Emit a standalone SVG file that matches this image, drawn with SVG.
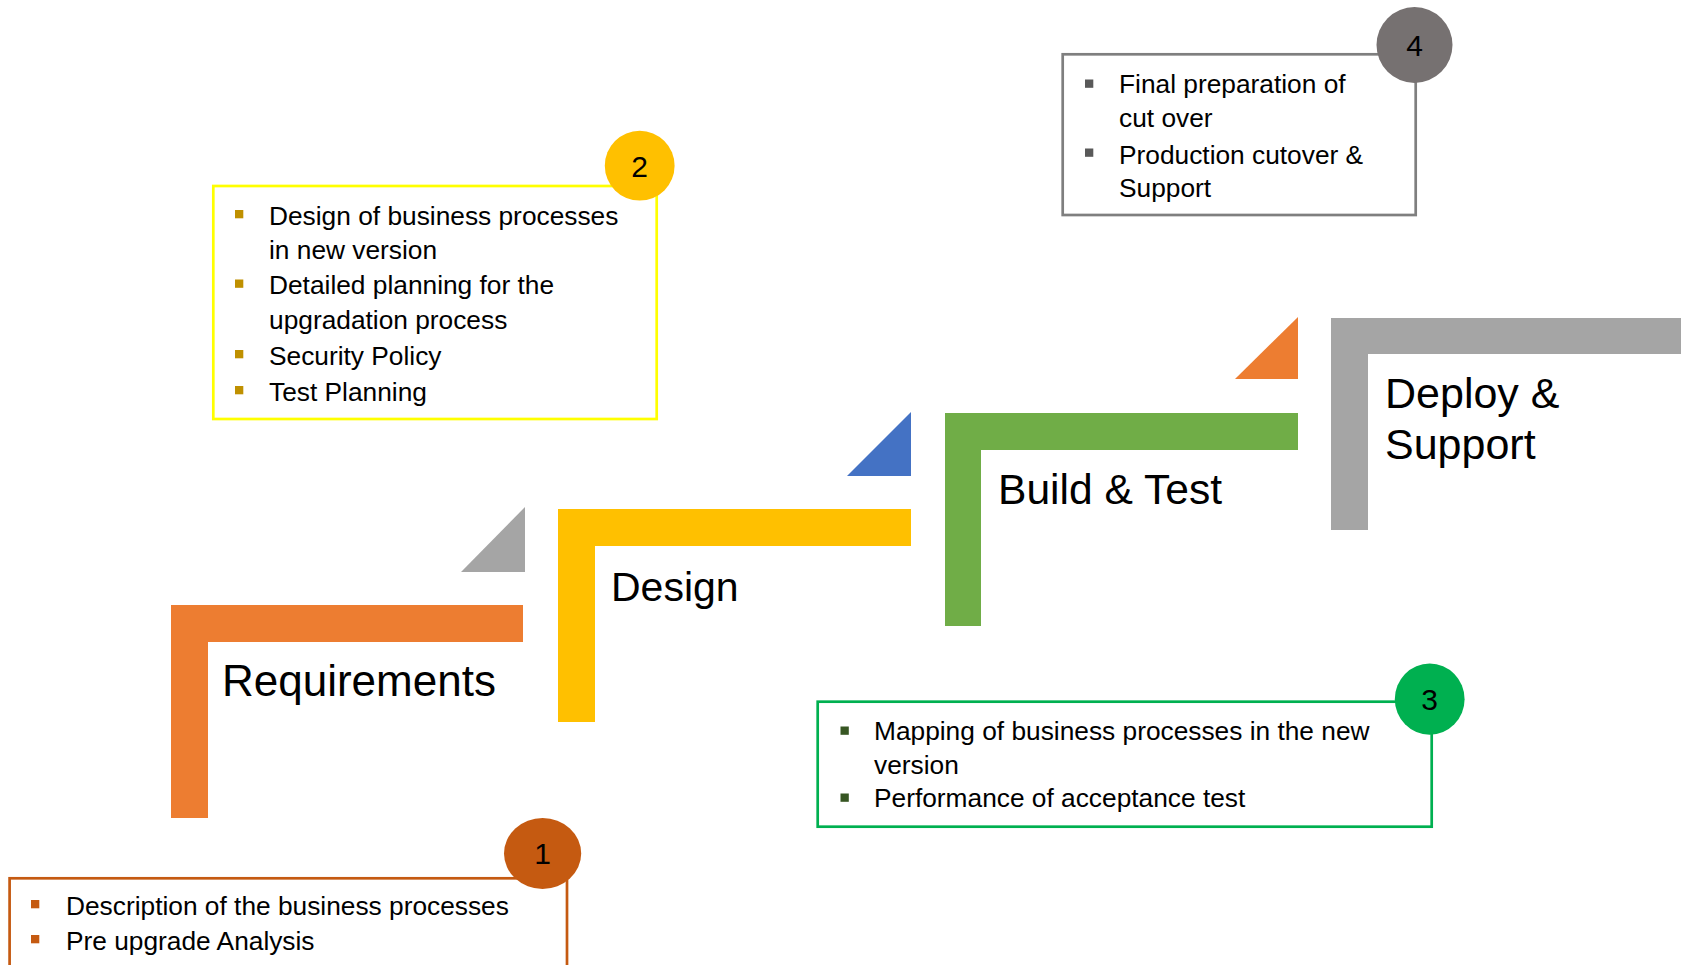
<svg xmlns="http://www.w3.org/2000/svg" width="1681" height="965" viewBox="0 0 1681 965">
<style>
  .lbl { font-family: "Liberation Sans", Arial, sans-serif; fill: #000; }
  .step { font-size: 42px; }
  .txt { font-size: 26.3px; }
  .num { font-size: 30px; text-anchor: middle; }
  .box { fill: #fff; stroke-width: 2.7; }
</style>
<rect width="1681" height="965" fill="#fff"/>

<g id="connectors">
  <path d="M525,507 V572 H461 Z" fill="#A5A5A5"/>
  <path d="M911,412 V476 H847 Z" fill="#4472C4"/>
  <path d="M1298,317 V379 H1235 Z" fill="#ED7D31"/>
</g>

<g id="step-requirements">
  <path d="M171,605 H523 V642 H208 V818 H171 Z" fill="#ED7D31"/>
  <text class="lbl step" x="222" y="696" style="font-size:44px">Requirements</text>
</g>

<g id="step-design">
  <path d="M558,509 H911 V546 H595 V722 H558 Z" fill="#FFC000"/>
  <text class="lbl step" x="611" y="601" style="font-size:41px">Design</text>
</g>

<g id="step-build">
  <path d="M945,413 H1298 V450 H981 V626 H945 Z" fill="#70AD47"/>
  <text class="lbl step" x="998" y="504" style="font-size:42.6px">Build &amp; Test</text>
</g>

<g id="step-deploy">
  <path d="M1331,318 H1681 V354 H1368 V530 H1331 Z" fill="#A5A5A5"/>
  <text class="lbl step" x="1385" y="408" style="font-size:43px">Deploy &amp;</text>
  <text class="lbl step" x="1385" y="459" style="font-size:43px">Support</text>
</g>

<g id="box-1">
  <rect class="box" x="9.6" y="878.3" width="557.4" height="110" stroke="#C55A11"/>
  <rect x="31" y="900" width="8.3" height="8.3" fill="#C55A11"/>
  <rect x="31" y="935" width="8.3" height="8.3" fill="#C55A11"/>
  <text class="lbl txt" x="66" y="915">Description of the business processes</text>
  <text class="lbl txt" x="66" y="950">Pre upgrade Analysis</text>
  <ellipse cx="542.6" cy="853.5" rx="38.6" ry="35.4" fill="#C55A11"/>
  <text class="lbl num" x="542.6" y="864">1</text>
</g>

<g id="box-2">
  <rect class="box" x="213.3" y="186" width="443.4" height="233" stroke="#FFFF00"/>
  <rect x="235" y="210" width="8.3" height="8.3" fill="#BF9000"/>
  <rect x="235" y="279.5" width="8.3" height="8.3" fill="#BF9000"/>
  <rect x="235" y="350" width="8.3" height="8.3" fill="#BF9000"/>
  <rect x="235" y="386" width="8.3" height="8.3" fill="#BF9000"/>
  <text class="lbl txt" x="269" y="225">Design of business processes</text>
  <text class="lbl txt" x="269" y="258.5">in new version</text>
  <text class="lbl txt" x="269" y="294">Detailed planning for the</text>
  <text class="lbl txt" x="269" y="328.5">upgradation process</text>
  <text class="lbl txt" x="269" y="365">Security Policy</text>
  <text class="lbl txt" x="269" y="401">Test Planning</text>
  <circle cx="639.7" cy="165.7" r="34.9" fill="#FFC000"/>
  <text class="lbl num" x="639.7" y="176.5">2</text>
</g>

<g id="box-3">
  <rect class="box" x="817.7" y="701.7" width="614" height="125" stroke="#00B050"/>
  <rect x="840.5" y="726.5" width="8.3" height="8.3" fill="#375623"/>
  <rect x="840.5" y="793.5" width="8.3" height="8.3" fill="#375623"/>
  <text class="lbl txt" x="874" y="740">Mapping of business processes in the new</text>
  <text class="lbl txt" x="874" y="774">version</text>
  <text class="lbl txt" x="874" y="807">Performance of acceptance test</text>
  <ellipse cx="1429.7" cy="699.2" rx="34.9" ry="35.6" fill="#00B050"/>
  <text class="lbl num" x="1429.7" y="710">3</text>
</g>

<g id="box-4">
  <rect class="box" x="1062.7" y="54.3" width="353" height="160.7" stroke="#7F7F7F"/>
  <rect x="1085" y="79.5" width="8.3" height="8.3" fill="#595959"/>
  <rect x="1085" y="148.5" width="8.3" height="8.3" fill="#595959"/>
  <text class="lbl txt" x="1119" y="93">Final preparation of</text>
  <text class="lbl txt" x="1119" y="127">cut over</text>
  <text class="lbl txt" x="1119" y="163.5">Production cutover &amp;</text>
  <text class="lbl txt" x="1119" y="197">Support</text>
  <circle cx="1414.5" cy="45" r="38" fill="#767171"/>
  <text class="lbl num" x="1414.5" y="56">4</text>
</g>
</svg>
